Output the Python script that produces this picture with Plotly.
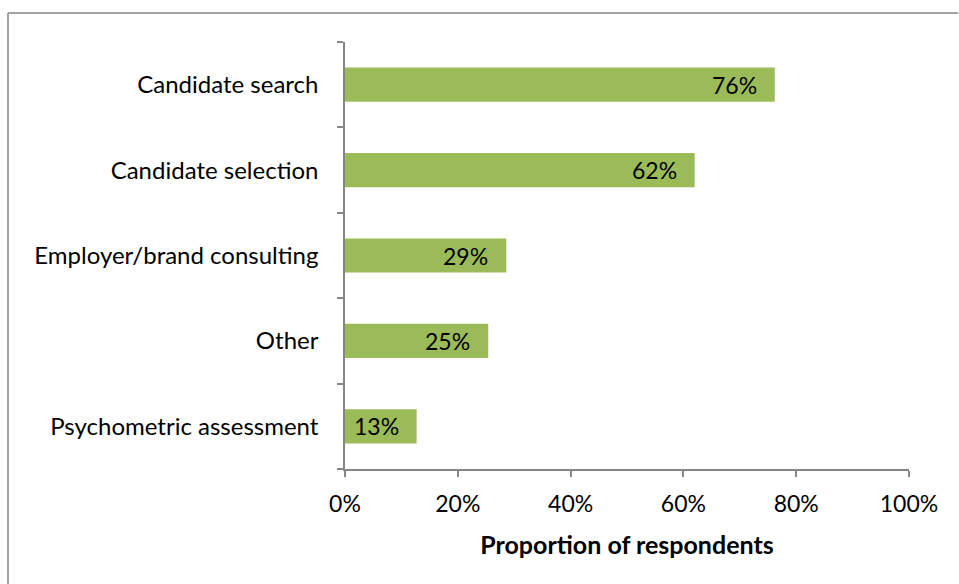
import plotly.graph_objects as go

categories = ["Psychometric assessment", "Other", "Employer/brand consulting",
              "Candidate selection", "Candidate search"]
values = [0.127, 0.254, 0.286, 0.62, 0.762]
labels = ["13%", "25%", "29%", "62%", "76%"]
x_ticks = [0, 0.2, 0.4, 0.6, 0.8, 1.0]
x_tick_labels = ["0%", "20%", "40%", "60%", "80%", "100%"]

FONT = "Lato, Calibri, Carlito, sans-serif"
AXIS_COLOR = "#868686"

fig = go.Figure(go.Bar(
    x=values, y=categories, orientation="h",
    marker=dict(color="#9BBB59", line=dict(width=0)),
    width=0.4,
    hoverinfo="x+y",
))

for v, c, t in zip(values, categories, labels):
    fig.add_annotation(x=v, y=c, text=t, showarrow=False, xanchor="right",
                       xshift=-16, font=dict(family=FONT, size=23, color="black"))

W, H = 959, 584
L, R, T, B = 345, 50, 42, 115
pw, ph = W - L - R, H - T - B

fig.update_layout(
    width=W, height=H,
    margin=dict(l=L, r=R, t=T, b=B),
    paper_bgcolor="white", plot_bgcolor="white",
    font=dict(family=FONT, size=24, color="black"),
    showlegend=False,
    xaxis=dict(
        range=[0, 1], tickvals=x_ticks, ticktext=x_tick_labels,
        showgrid=False, zeroline=False,
        showline=True, linecolor=AXIS_COLOR, linewidth=1.5,
        ticks="outside", ticklen=6, tickcolor=AXIS_COLOR, tickwidth=1.5,
        ticklabelstandoff=8, tickfont=dict(size=23),
        title=dict(text="<b>Proportion of respondents</b>", standoff=20,
                   font=dict(family=FONT, size=25)),
    ),
    yaxis=dict(
        showgrid=False, zeroline=False,
        showline=True, linecolor=AXIS_COLOR, linewidth=1.5,
        ticks="outside", ticklen=6, tickcolor=AXIS_COLOR, tickwidth=1.5,
        tickson="boundaries", ticklabelstandoff=20,
        range=[-0.5, 4.5],
    ),
)

# outer chart border: only left and top edges are visible in the frame
bx = (8 - L) / pw
by = (H - B - 13) / ph
fig.add_shape(type="line", xref="paper", yref="paper",
              x0=bx, x1=bx, y0=by, y1=(H - B - (H + 20)) / ph,
              line=dict(color="#868686", width=1.5), layer="below")
fig.add_shape(type="line", xref="paper", yref="paper",
              x0=bx, x1=(W - 1 - L) / pw, y0=by, y1=by,
              line=dict(color="#868686", width=1.5), layer="below")

fig.write_html(
    "out.html",
    config={"displayModeBar": False},
    post_script=(
        "document.documentElement.style.overflow='hidden';"
        "document.body.style.margin='0';document.body.style.overflow='hidden';"
        "document.body.style.background='white';"
    ),
)
